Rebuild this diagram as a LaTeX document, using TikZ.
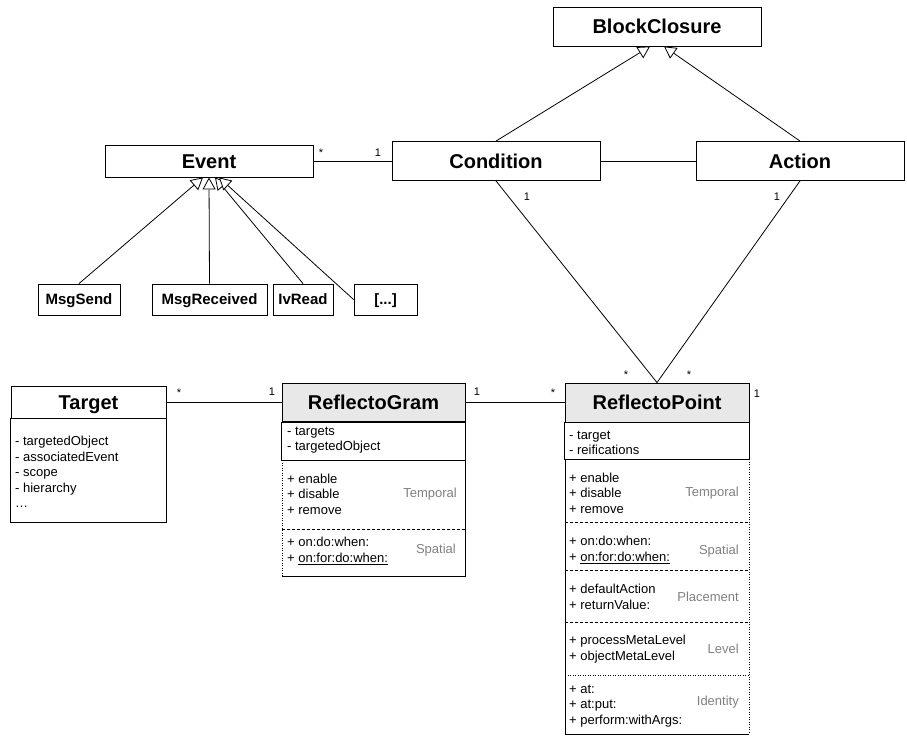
\documentclass[tikz,border=0pt]{standalone}
\usepackage{fontspec}
\setmainfont{Liberation Sans}
\usetikzlibrary{arrows.meta}
\definecolor{hdrgray}{HTML}{E8E8E8}
\definecolor{taggray}{HTML}{808080}

\begin{document}
\begin{tikzpicture}[x=1pt,y=-1pt,
    cls/.style={draw,line width=0.9pt,inner sep=0pt,fill=white,
      text height=14.3pt,text depth=0pt,
      font=\fontsize{20}{24}\selectfont\bfseries},
    sub/.style={draw,line width=0.9pt,inner sep=0pt,minimum height=31,
      text height=10.7pt,text depth=0pt,
      font=\fontsize{15}{18}\selectfont\bfseries},
    items/.style={anchor=west,inner sep=0pt,align=left,
      font=\fontsize{13}{15.5}\selectfont},
    tag/.style={anchor=east,inner sep=0pt,text=taggray,
      font=\fontsize{13}{15.5}\selectfont},
    mult/.style={inner sep=0pt,font=\fontsize{11}{13}\selectfont},
    box/.style={line width=0.9pt},
    sep/.style={line width=0.7pt,dash pattern=on 3pt off 2pt},
    dots/.style={line width=0.7pt,dash pattern=on 1pt off 1.5pt},
    link/.style={line width=0.8pt},
    inherit/.style={line width=0.8pt,
      -{Triangle[open,length=12pt,width=13pt,fill=white]}}]
  \useasboundingbox (0,0) rectangle (907,736);

  % top classes
  \node[cls,minimum width=208,minimum height=39] (block) at (657,26.5) {BlockClosure};
  \node[cls,minimum width=208,minimum height=32] (event) at (209,161) {Event};
  \node[cls,minimum width=208,minimum height=39] (cond) at (496,161) {Condition};
  \node[cls,minimum width=208,minimum height=39] (act) at (800,161) {Action};

  % event kinds
  \node[sub,minimum width=82] (msgsend) at (79,299.5) {MsgSend};
  \node[sub,minimum width=115] (msgrecv) at (209.5,299.5) {MsgReceived};
  \node[sub,minimum width=60] (ivread) at (303,299.5) {IvRead};
  \node[sub,minimum width=63] (etc) at (385.5,299.5) {[...]};

  % Target
  \node[cls,minimum width=155,minimum height=32] (target) at (88.5,402) {Target};
  \draw[box] (target.south west) rectangle (166,522);
  \node[items] (targetattr) at (15,472)
    {- targetedObject\\- associatedEvent\\- scope\\- hierarchy\\…};

  % ReflectoGram
  \node[cls,fill=hdrgray,minimum width=183,minimum height=38] (gram) at (373.5,402.5) {ReflectoGram};
  \draw[box] (gram.south west) rectangle (465,460);
  \node[items] (gramattr) at (287,440) {- targets\\- targetedObject};
  \node[items] (gramtemp) at (287,494) {+ enable\\+ disable\\+ remove};
  \node[tag] (gramtemptag) at (457,494) {Temporal};
  \draw[sep] (282,529) -- (465,529);
  \node[items] (gramspat) at (287,551) {+ on:do:when:\\+ \underline{on:for:do:when:}};
  \node[tag] (gramspattag) at (456,550) {Spatial};
  \draw[box] (465,460) -- (465,576) -- (282,576);
  \draw[dots] (282,460) -- (282,576);

  % ReflectoPoint
  \node[cls,fill=hdrgray,minimum width=184,minimum height=39] (point) at (657,402.5) {ReflectoPoint};
  \draw[box] (point.south west) rectangle (749,459);
  \node[items] (pointattr) at (569,443) {- target\\- reifications};
  \node[items] (pointtemp) at (569,493) {+ enable\\+ disable\\+ remove};
  \node[tag] (pointtemptag) at (739,493) {Temporal};
  \draw[sep] (565,522) -- (749,522);
  \node[items] (pointspat) at (569,550) {+ on:do:when:\\+ \underline{on:for:do:when:}};
  \node[tag] (pointspattag) at (739,551) {Spatial};
  \draw[sep] (565,570) -- (749,570);
  \node[items] (pointplace) at (569,597) {+ defaultAction\\+ returnValue:};
  \node[tag] (pointplacetag) at (739,597) {Placement};
  \draw[sep] (565,622) -- (749,622);
  \node[items] (pointlevel) at (569,649) {+ processMetaLevel\\+ objectMetaLevel};
  \node[tag] (pointleveltag) at (739,649) {Level};
  \draw[dots] (565,675) -- (749,675);
  \node[items] (pointident) at (569,706) {+ at:\\+ at:put:\\+ perform:withArgs:};
  \node[tag] (pointidenttag) at (739,702) {Identity};
  \draw[box] (565,459) -- (565,734) -- (749,734);
  \draw[dots] (749,459) -- (749,734);

  % connectors
  \draw[inherit] (cond.north) -- ([xshift=-7]block.south);
  \draw[inherit] (act.north) -- ([xshift=7]block.south);
  \draw[link] (event.east) -- (event.east -| cond.west);
  \draw[link] (cond.east) -- (act.west);
  \draw[link] (cond.south) -- (point.north);
  \draw[link] (act.south) -- (point.north);
  \draw[inherit] (msgsend.north) -- ([xshift=-6]event.south);
  \draw[inherit] (msgrecv.north) -- (event.south);
  \draw[inherit] (ivread.north) -- ([xshift=6]event.south);
  \draw[inherit] (etc.west) -- ([xshift=10]event.south);
  \draw[link] (target.east) -- (target.east -| gram.west);
  \draw[link] (gram.east) -- (point.west);

  % multiplicities
  \node[mult] (m1) at (321,153) {*};
  \node[mult] (m2) at (378,153) {1};
  \node[mult] (m3) at (527,197) {1};
  \node[mult] (m4) at (777,197) {1};
  \node[mult] (m5) at (626,375) {*};
  \node[mult] (m6) at (689,375) {*};
  \node[mult] (m7) at (179,393) {*};
  \node[mult] (m8) at (272,392) {1};
  \node[mult] (m9) at (477,392) {1};
  \node[mult] (m10) at (553,393) {*};
  \node[mult] (m11) at (757,394) {1};
\end{tikzpicture}
\end{document}
